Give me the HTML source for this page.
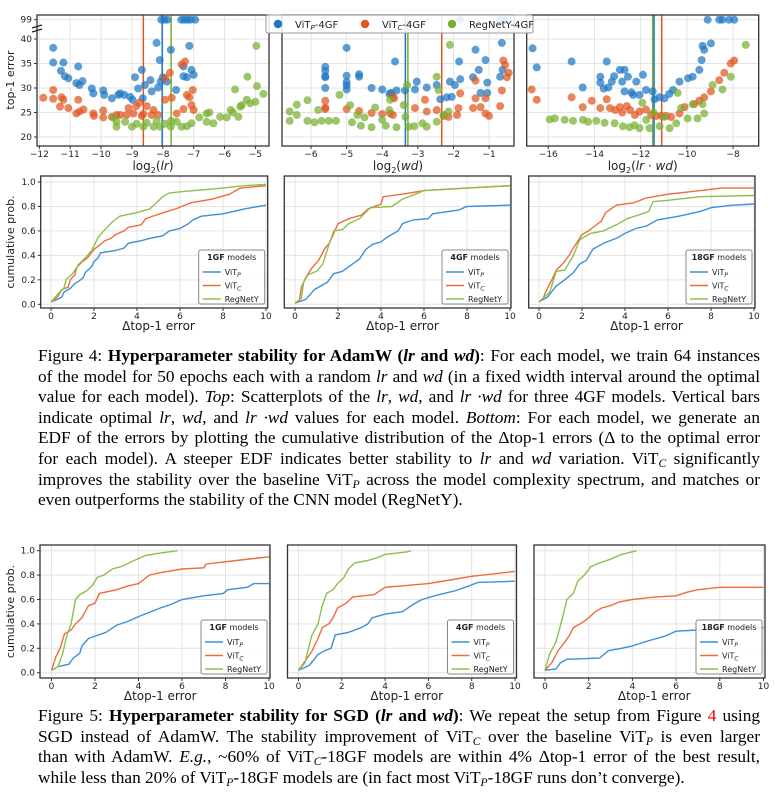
<!DOCTYPE html>
<html><head><meta charset="utf-8">
<style>
html,body{margin:0;padding:0;background:#fff;}
body{width:775px;height:806px;position:relative;overflow:hidden;font-family:"Liberation Sans","DejaVu Sans",sans-serif;}
svg{position:absolute;left:0;top:0;}
.cap{position:absolute;left:38px;width:722px;font-family:"Liberation Serif",serif;font-size:17.3px;line-height:20.6px;white-space:nowrap;color:#000;}
.j{text-align:justify;text-align-last:justify;white-space:normal;height:20.6px;overflow:visible;}
sub{font-size:11.5px;vertical-align:-3px;line-height:0;}
</style></head>
<body>
<svg id="fig" width="775" height="806" viewBox="0 0 775 806" xmlns="http://www.w3.org/2000/svg"></svg>

<div class="cap" style="top:346px;">
<div class="j">Figure 4: <b>Hyperparameter stability for AdamW (<i>lr</i> and <i>wd</i>)</b>: For each model, we train 64 instances</div>
<div class="j">of the model for 50 epochs each with a random <i>lr</i> and <i>wd</i> (in a fixed width interval around the optimal</div>
<div class="j">value for each model). <i>Top</i>: Scatterplots of the <i>lr</i>, <i>wd</i>, and <i>lr ·wd</i> for three 4GF models. Vertical bars</div>
<div class="j">indicate optimal <i>lr</i>, <i>wd</i>, and <i>lr ·wd</i> values for each model. <i>Bottom</i>: For each model, we generate an</div>
<div class="j">EDF of the errors by plotting the cumulative distribution of the Δtop-1 errors (Δ to the optimal error</div>
<div class="j">for each model). A steeper EDF indicates better stability to <i>lr</i> and <i>wd</i> variation. ViT<sub><i>C</i></sub> significantly</div>
<div class="j">improves the stability over the baseline ViT<sub><i>P</i></sub> across the model complexity spectrum, and matches or</div>
<div>even outperforms the stability of the CNN model (RegNetY).</div>
</div>

<div class="cap" style="top:706px;">
<div class="j">Figure 5: <b>Hyperparameter stability for SGD (<i>lr</i> and <i>wd</i>)</b>: We repeat the setup from Figure <span style="color:#e00">4</span> using</div>
<div class="j">SGD instead of AdamW. The stability improvement of ViT<sub><i>C</i></sub> over the baseline ViT<sub><i>P</i></sub> is even larger</div>
<div class="j">than with AdamW. <i>E.g.</i>, ~60% of ViT<sub><i>C</i></sub>-18GF models are within 4% Δtop-1 error of the best result,</div>
<div>while less than 20% of ViT<sub><i>P</i></sub>-18GF models are (in fact most ViT<sub><i>P</i></sub>-18GF runs don’t converge).</div>
</div>

<script>
// ---------- scatter data (x = log2 value, y = top-1 error; 99 = diverged) ----------
const sc1_vitp = [[-11.55,38.2],[-11.55,35.2],[-11.22,35.2],[-11.3,33.5],[-11.17,32.4],[-11.06,32],[-10.74,34.4],[-10.8,31],[-10.7,30.6],[-10.6,31.4],[-10.3,29.9],[-10.25,28.9],[-9.93,29.5],[-9.9,28.6],[-9.65,27.9],[-9.44,28.6],[-9.38,28.9],[-9.25,28.6],[-9.06,28.2],[-8.98,27.6],[-8.9,32.2],[-8.8,29.9],[-8.68,33.7],[-8.65,27.9],[-8.58,30.6],[-8.4,31.6],[-8.36,29.3],[-8.2,39.2],[-8.15,30.1],[-8.1,35.7],[-8.07,31.3],[-8,32.2],[-7.87,31.3],[-7.74,37.8],[-7.57,29.6],[-7.33,34.4],[-7.33,32.4],[-7.22,32.2],[-7.14,38.6],[-7.07,33.7],[-7.0,32.7],[-8.05,99],[-7.95,99],[-7.85,99],[-7.4,99],[-7.3,99],[-7.2,99],[-7.1,99],[-6.95,99]];
const sc1_vitc = [[-11.87,28],[-11.55,29.6],[-11.55,27.8],[-11.28,28.1],[-11.22,27.6],[-11.33,26.2],[-11.06,25.9],[-10.74,27.6],[-10.8,24.8],[-10.7,25.2],[-10.57,25.6],[-10.25,24.8],[-10.23,24.3],[-9.93,25.4],[-9.93,24],[-9.65,24.1],[-9.5,24.5],[-9.38,24.5],[-9.17,24.5],[-9.11,25.9],[-8.95,24.8],[-8.86,26.3],[-8.76,27],[-8.68,24.3],[-8.63,24.7],[-8.52,26.3],[-8.36,24.5],[-8.3,25.5],[-8.15,24.5],[-7.93,27.6],[-7.92,32],[-7.77,33.1],[-7.71,28],[-7.55,24.8],[-7.39,34.8],[-7.28,35.4],[-7.33,25.7],[-7.22,28.6],[-7.14,28.1],[-7.07,26.5],[-7.03,29.6],[-7.0,25.5]];
const sc1_reg = [[-9.6,24],[-9.5,23.1],[-9.5,22.1],[-9.22,23.1],[-9.0,22.1],[-8.85,22.7],[-8.63,22.1],[-8.52,22.9],[-8.3,22.1],[-8.2,23.3],[-8.09,22.1],[-7.93,22.7],[-7.74,22.1],[-7.73,23.3],[-7.55,23.1],[-7.39,22.1],[-7.22,22.2],[-7.07,22.8],[-6.82,24],[-6.58,23.1],[-6.49,25],[-6.36,22.8],[-6.14,24.1],[-5.93,24],[-5.73,25],[-5.66,29.7],[-5.55,24.1],[-5.44,26.5],[-5.28,27.6],[-5.26,32.3],[-5.17,26.9],[-5.0,27.2],[-4.95,30.4],[-4.97,38.6],[-4.74,28.8],[-6.58,24.8],[-5.8,25.5],[-5.49,26.2]];
const sc2_vitp = [[-5.6,34.3],[-5.6,33.5],[-5.6,32.4],[-5.6,32.2],[-5.6,30],[-5,38.2],[-5,32.5],[-5,31.2],[-5,30.5],[-5,29.7],[-4.65,32.8],[-4.65,32.3],[-4.3,30],[-4,29.7],[-3.8,28.8],[-3.75,29],[-3.6,29.5],[-3.64,35.4],[-3.36,29.5],[-3.03,31.3],[-3.08,29.7],[-2.75,30.1],[-2.47,30.6],[-2.37,27.7],[-2.19,28.1],[-2.1,31.3],[-2.05,28.2],[-1.96,30.6],[-1.84,35.4],[-1.81,31.8],[-1.45,32.2],[-1.38,37.8],[-1.29,33.7],[-1.24,29],[-1.1,35.7],[-1.05,31.1],[-1.05,29],[-0.69,32.3],[-0.64,39.2],[-0.62,33.7],[-1.81,99],[-0.7,99],[-0.54,99]];
const sc2_vitc = [[-5.6,27.4],[-5.6,26],[-5.6,25.7],[-5,25.7],[-4.65,25.3],[-4.3,24.9],[-4,24.7],[-3.7,24.5],[-3.7,28.2],[-3.67,27.9],[-3.78,24.8],[-3.08,25.9],[-2.8,27.6],[-2.75,25.2],[-2.47,25.5],[-2.28,24.3],[-2.14,24.1],[-1.9,24.5],[-1.86,25.9],[-1.81,28.9],[-1.45,25.9],[-1.38,27.9],[-1.38,31.5],[-1.24,26.1],[-1.1,27.9],[-1.0,24.3],[-1.1,24.8],[-0.69,26.3],[-0.64,29.5],[-0.6,35.6],[-0.55,34.7],[-0.5,32.2],[-0.45,33.1]];
const sc2_reg = [[-6.6,25.2],[-6.6,23.3],[-6.4,24.5],[-6.4,26.6],[-6.1,27.5],[-6.1,23.3],[-5.9,23],[-5.8,25.5],[-5.7,23.3],[-5.5,23.3],[-5.3,23.3],[-5.2,28.6],[-4.9,26.5],[-4.85,23],[-4.7,24.5],[-4.6,22.3],[-4.5,24],[-4.3,22],[-4.2,26],[-4.0,23.5],[-3.9,22.3],[-3.8,25.5],[-3.6,22],[-3.78,27.6],[-3.4,26.5],[-3.3,30.6],[-3.26,22.1],[-3.1,22.2],[-3.35,24.1],[-2.87,22.8],[-2.75,22.1],[-2.47,32.3],[-2.42,29.6],[-2.47,23.1],[-2.1,38.8],[-2.14,25.2],[-2.28,24.5]];
const sc3_vitp = [[-16.68,38.1],[-16.5,34.2],[-14.99,35.4],[-14.51,30.1],[-13.47,35.4],[-13.75,32.3],[-13.75,31.1],[-13.6,29.9],[-13.4,30.1],[-13.25,31.3],[-13.15,32.4],[-12.9,33.7],[-12.8,31.3],[-12.7,29.3],[-12.7,33.7],[-12.55,32.3],[-12.4,29.1],[-12.33,28.6],[-12.19,31.3],[-12.05,28.6],[-11.9,32.7],[-11.77,29.6],[-11.48,29.3],[-11.4,27.7],[-11.19,28.1],[-10.97,27.9],[-10.76,28.8],[-10.6,29.6],[-10.32,31.3],[-9.95,32],[-9.75,32.3],[-9.46,33.7],[-9.36,35.7],[-9.32,38.6],[-9.25,37.8],[-8.96,39.1],[-9.1,99],[-8.6,99],[-8.46,99],[-8.17,99],[-7.95,99]];
const sc3_vitc = [[-16.72,29.7],[-16.5,27.6],[-14.99,28.1],[-14.51,26.1],[-14.12,27.4],[-13.75,25.9],[-13.47,27.7],[-13.33,25.9],[-13.1,25.5],[-12.9,26.1],[-12.8,25],[-12.6,26.3],[-12.46,25.5],[-12.25,24.5],[-12.05,25.2],[-11.77,25.6],[-11.55,24.5],[-11.33,24.3],[-11.1,24.3],[-10.9,24.3],[-10.68,24.1],[-10.32,24.8],[-10.1,26.1],[-9.68,26.7],[-9.46,27.4],[-9.25,28.1],[-8.96,29.3],[-8.6,31.6],[-8.38,33.1],[-8.1,35],[-7.95,35.6]];
const sc3_reg = [[-15.94,23.6],[-15.72,23.8],[-15.29,23.5],[-14.93,23.3],[-14.5,23.5],[-14.28,23.1],[-13.92,23.3],[-13.56,22.9],[-13.13,22.8],[-12.77,22.2],[-12.48,22],[-12.27,22.4],[-12.05,21.8],[-11.93,27],[-11.76,23.5],[-11.62,21.8],[-11.44,25],[-11.18,22.2],[-10.97,24.1],[-10.75,21.8],[-10.46,22.8],[-10.4,29],[-10.25,25.9],[-9.97,23.8],[-9.75,26.7],[-9.54,23.8],[-9.32,26.7],[-9.25,24.8],[-8.89,30.6],[-8.46,29.7],[-8.1,32.3],[-7.45,38.8]];
// optimal values (vertical bars): [vitp, vitc, regnety]
const opt1 = [-8.02,-8.63,-7.73];
const opt2 = [-3.35,-2.33,-3.28];
const opt3 = [-11.42,-11.09,-11.48];
const scYTicks = [20,25,30,35,40];
const sc1XTicks = [-12,-11,-10,-9,-8,-7,-6,-5];
const sc2XTicks = [-6,-5,-4,-3,-2,-1];
const sc3XTicks = [-16,-14,-12,-10,-8];

// ---------- EDF data ([delta top-1 error, cumulative prob]) ----------
const e4_1_vitp = [[0,0.02],[0.3,0.04],[0.5,0.06],[0.6,0.1],[0.9,0.13],[1.0,0.15],[1.1,0.17],[1.3,0.19],[1.5,0.22],[1.6,0.26],[1.9,0.31],[2.0,0.35],[2.2,0.38],[2.3,0.42],[3.0,0.44],[3.4,0.46],[3.6,0.5],[4.2,0.52],[4.6,0.54],[5.2,0.56],[5.5,0.6],[6.0,0.62],[6.4,0.66],[6.6,0.69],[7.0,0.72],[8.0,0.74],[8.5,0.76],[9.0,0.78],[10,0.81]];
const e4_1_vitc = [[0,0.02],[0.3,0.06],[0.5,0.12],[0.8,0.14],[0.9,0.2],[1.1,0.24],[1.2,0.3],[1.4,0.34],[1.7,0.38],[2.0,0.45],[2.3,0.49],[2.5,0.52],[2.8,0.54],[3.0,0.57],[3.4,0.6],[3.6,0.63],[4.2,0.65],[4.4,0.7],[4.9,0.73],[5.4,0.76],[5.8,0.78],[6.5,0.83],[7.5,0.86],[8.3,0.9],[8.8,0.95],[10,0.97]];
const e4_1_reg = [[0,0.02],[0.4,0.1],[0.6,0.13],[0.7,0.2],[1.0,0.25],[1.3,0.33],[1.6,0.38],[1.9,0.44],[2.2,0.55],[2.6,0.63],[2.9,0.68],[3.2,0.72],[4.0,0.75],[4.6,0.78],[4.9,0.83],[5.2,0.88],[5.5,0.91],[6,0.92],[8,0.95],[9,0.97],[10,0.98]];
const e4_4_vitp = [[0,0.01],[0.5,0.04],[0.9,0.12],[1.5,0.18],[1.8,0.25],[2.2,0.27],[2.6,0.32],[3.0,0.37],[3.3,0.45],[3.6,0.49],[4.0,0.51],[4.3,0.55],[4.8,0.6],[5.0,0.66],[5.5,0.69],[6.2,0.7],[6.4,0.74],[7.6,0.77],[8.0,0.8],[10,0.81]];
const e4_4_vitc = [[0,0.01],[0.2,0.03],[0.3,0.14],[0.5,0.22],[0.8,0.3],[1.1,0.36],[1.4,0.46],[1.6,0.5],[2.0,0.66],[2.5,0.7],[3.1,0.73],[3.4,0.78],[4.0,0.82],[4.1,0.88],[5,0.9],[6,0.93],[8,0.95],[10,0.97]];
const e4_4_reg = [[0,0.01],[0.3,0.05],[0.4,0.18],[0.6,0.24],[1.0,0.27],[1.3,0.33],[1.6,0.5],[1.8,0.6],[2.2,0.61],[2.5,0.66],[3.0,0.7],[3.5,0.79],[4.5,0.8],[5.0,0.86],[5.6,0.9],[6,0.93],[8,0.95],[10,0.97]];
const e4_18_vitp = [[0,0.02],[0.4,0.06],[0.8,0.15],[1.2,0.2],[1.6,0.26],[1.9,0.33],[2.2,0.36],[2.5,0.45],[3.0,0.5],[3.6,0.54],[4.0,0.58],[4.5,0.62],[5.0,0.64],[5.5,0.69],[6.5,0.72],[7.5,0.76],[8,0.79],[9,0.81],[10,0.82]];
const e4_18_vitc = [[0,0.02],[0.2,0.05],[0.3,0.1],[0.6,0.2],[0.8,0.28],[1.1,0.33],[1.4,0.4],[1.6,0.46],[2.0,0.57],[2.3,0.6],[2.6,0.64],[2.9,0.68],[3.1,0.75],[3.6,0.81],[4.4,0.83],[5,0.87],[6,0.9],[7,0.92],[8.5,0.95],[10,0.95]];
const e4_18_reg = [[0,0.02],[0.5,0.1],[0.8,0.27],[1.2,0.28],[1.6,0.4],[1.9,0.53],[2.4,0.58],[3.0,0.6],[3.6,0.65],[4.1,0.7],[4.8,0.74],[5.1,0.76],[5.3,0.84],[6,0.85],[7.5,0.88],[10,0.89]];
const e5_1_vitp = [[0,0.02],[0.3,0.05],[0.8,0.07],[1.0,0.12],[1.3,0.16],[1.4,0.22],[1.7,0.28],[2.0,0.3],[2.5,0.33],[3.0,0.39],[3.5,0.42],[4.0,0.46],[5.0,0.53],[5.5,0.56],[6.0,0.6],[7.0,0.63],[7.9,0.65],[8.1,0.68],[9.0,0.7],[9.3,0.73],[10,0.73]];
const e5_1_vitc = [[0,0.02],[0.2,0.13],[0.4,0.2],[0.6,0.32],[0.9,0.35],[1.1,0.4],[1.4,0.45],[1.7,0.55],[2.0,0.57],[2.2,0.65],[3.0,0.68],[3.5,0.71],[4.0,0.73],[4.5,0.8],[5,0.82],[6,0.85],[7,0.86],[7.1,0.89],[8.5,0.92],[10,0.95]];
const e5_1_reg = [[0,0.02],[0.3,0.05],[0.5,0.15],[0.7,0.3],[0.9,0.4],[1.0,0.5],[1.1,0.6],[1.3,0.64],[1.6,0.67],[1.9,0.72],[2.1,0.78],[2.4,0.8],[2.8,0.85],[3.2,0.87],[3.8,0.92],[4.3,0.96],[5.0,0.98],[5.8,1.0]];
const e5_4_vitp = [[0,0.02],[0.5,0.06],[0.9,0.15],[1.2,0.18],[1.5,0.2],[1.7,0.31],[2.3,0.33],[2.9,0.37],[3.2,0.4],[3.4,0.45],[4.0,0.48],[4.8,0.5],[5.3,0.56],[5.7,0.6],[6.5,0.64],[7.2,0.67],[7.7,0.7],[8.3,0.74],[10,0.75]];
const e5_4_vitc = [[0,0.02],[0.4,0.12],[0.6,0.17],[0.9,0.28],[1.1,0.37],[1.4,0.4],[1.6,0.45],[1.8,0.53],[2.2,0.57],[2.5,0.62],[3.0,0.63],[3.5,0.64],[4.0,0.7],[6,0.73],[7,0.76],[8,0.79],[9,0.81],[10,0.83]];
const e5_4_reg = [[0,0.02],[0.3,0.08],[0.6,0.3],[0.9,0.4],[1.1,0.55],[1.3,0.65],[1.6,0.68],[1.8,0.73],[2.1,0.78],[2.3,0.85],[2.6,0.9],[3.2,0.92],[3.6,0.94],[4.0,0.97],[5.0,0.99],[5.2,1.0]];
const e5_18_vitp = [[0,0.02],[0.5,0.03],[0.7,0.08],[1.0,0.11],[2.5,0.12],[2.9,0.18],[3.5,0.2],[4.0,0.22],[4.7,0.26],[5.5,0.3],[6.0,0.34],[7,0.35],[8,0.36],[10,0.37]];
const e5_18_vitc = [[0,0.02],[0.3,0.08],[0.6,0.18],[0.9,0.25],[1.1,0.3],[1.3,0.37],[1.7,0.41],[2.0,0.45],[2.3,0.5],[2.6,0.53],[3.0,0.55],[3.4,0.58],[4.0,0.6],[5,0.62],[6,0.63],[6.5,0.66],[7.0,0.68],[8,0.7],[10,0.7]];
const e5_18_reg = [[0,0.02],[0.2,0.15],[0.5,0.25],[0.8,0.45],[1.0,0.6],[1.3,0.65],[1.5,0.75],[1.8,0.8],[2.1,0.87],[2.5,0.9],[3.0,0.93],[3.5,0.97],[4.2,1.0]];
const edfXTicks = [0,2,4,6,8,10];
const edfYTicks = [0,0.2,0.4,0.6,0.8,1.0];

const NS = "http://www.w3.org/2000/svg";
const svg = document.getElementById('fig');
function mk(tag, attrs, parent){ const e=document.createElementNS(NS,tag); for(const k in attrs) e.setAttribute(k,attrs[k]); (parent||svg).appendChild(e); return e; }
function txt(s, x, y, size, anchor, parent, extra){ const t=mk('text',Object.assign({x:x,y:y,'font-size':size,'text-anchor':anchor||'middle','font-family':'"DejaVu Sans","Liberation Sans",sans-serif',fill:'#222'},extra||{}),parent); t.textContent=s; return t; }
const fmtMinus = v => (v<0?'\u2212':'')+Math.abs(v);

const SC = {vitp:'#1f77c4', vitc:'#e0561f', reg:'#77b030'};
const LN = {vitp:'#3d8fd6', vitc:'#ef6b3e', reg:'#8cc04b'};

// ---------- scatter panels ----------
function scatterPanel(name, px0, px1, dx0, dx1, xTicks, series, opts, xlabel, showY){
  const top=15, bot=146;
  const g = mk('g',{});
  
  
  const xs = v => px0 + (v-dx0)/(dx1-dx0)*(px1-px0);
  const ys = v => v>=90 ? 19.7 : 137 - (v-20)*4.9;
  xTicks.forEach(t=>{ mk('line',{x1:xs(t),x2:xs(t),y1:top,y2:bot,stroke:'#e3e3e3','stroke-width':1},g); });
  scYTicks.forEach(t=>{ mk('line',{x1:px0,x2:px1,y1:ys(t),y2:ys(t),stroke:'#e3e3e3','stroke-width':1},g); });
  mk('line',{x1:px0,x2:px1,y1:ys(99),y2:ys(99),stroke:'#e3e3e3','stroke-width':1},g);
  const keys=['vitp','vitc','reg'];
  opts.forEach((v,i)=>{ const l=mk('line',{x1:xs(v),x2:xs(v),y1:top,y2:bot,stroke:SC[keys[i]],'stroke-width':1.5},g);
    
     });
  series.forEach((arr,i)=>{ arr.forEach(p=>{ const c=mk('circle',{cx:xs(p[0]),cy:ys(p[1]),r:4,fill:SC[keys[i]],'fill-opacity':0.72},g);
    
     }); });
  mk('rect',{x:px0,y:top,width:px1-px0,height:bot-top,fill:'none',stroke:'#333','stroke-width':1.3},g);
  xTicks.forEach(t=>{ mk('line',{x1:xs(t),x2:xs(t),y1:bot,y2:bot+3,stroke:'#333'},g); txt(fmtMinus(t),xs(t),bot+11,9,'middle',g); });
  if(showY){
    scYTicks.forEach(t=>{ mk('line',{x1:px0-3,x2:px0,y1:ys(t),y2:ys(t),stroke:'#333'},g); txt(String(t),px0-5,ys(t)+3,9,'end',g); });
    mk('line',{x1:px0-3,x2:px0,y1:ys(99),y2:ys(99),stroke:'#333'},g); txt('99',px0-5,ys(99)+3,9,'end',g);
    mk('line',{x1:px0-5,x2:px0+5,y1:28,y2:25,stroke:'#222','stroke-width':1.3},g);
    mk('line',{x1:px0-5,x2:px0+5,y1:32,y2:29,stroke:'#222','stroke-width':1.3},g);
    const yl=txt('top-1 error',14,80,11,'middle',g,{transform:'rotate(-90 14 80)'});
    
    
  }
  const xl = mk('text',{x:(px0+px1)/2,y:170,'font-size':12,'text-anchor':'middle','font-family':'"DejaVu Sans",sans-serif',fill:'#222'},g);
  xl.innerHTML = xlabel;
  
  
}
scatterPanel('scatter-lr',37,269,-12.075,-4.56,sc1XTicks,[sc1_vitp,sc1_vitc,sc1_reg],opt1,'log<tspan font-size="8" dy="3">2</tspan><tspan dy="-3">(</tspan><tspan font-style="italic">lr</tspan>)',true);
scatterPanel('scatter-wd',282,514,-6.815,-0.30,sc2XTicks,[sc2_vitp,sc2_vitc,sc2_reg],opt2,'log<tspan font-size="8" dy="3">2</tspan><tspan dy="-3">(</tspan><tspan font-style="italic">wd</tspan>)',false);
scatterPanel('scatter-lr-wd',526.7,758.7,-16.935,-6.89,sc3XTicks,[sc3_vitp,sc3_vitc,sc3_reg],opt3,'log<tspan font-size="8" dy="3">2</tspan><tspan dy="-3">(</tspan><tspan font-style="italic">lr</tspan> · <tspan font-style="italic">wd</tspan>)',false);

(function(){
  const g=mk('g',{});
  
  
  mk('rect',{x:266,y:15,width:267,height:18,fill:'#fff','fill-opacity':0.85,stroke:'#999','stroke-width':1,rx:2},g);
  const items=[['vitp','ViT','P','-4GF',278],['vitc','ViT','C','-4GF',365],['reg','RegNetY-4GF','','',452]];
  items.forEach(it=>{
    const c=mk('circle',{cx:it[4],cy:24,r:4.2,fill:SC[it[0]]},g);
    
    
    const t=mk('text',{x:it[4]+17,y:28,'font-size':10,'font-family':'"DejaVu Sans",sans-serif',fill:'#222'},g);
    t.innerHTML = it[2] ? it[1]+'<tspan font-size="7" dy="2" font-style="italic">'+it[2]+'</tspan><tspan dy="-2">'+it[3]+'</tspan>' : it[1];
    
    
  });
})();

// ---------- EDF panels ----------
function edfPanel(name, bx0, bx1, top, bot, x0px, x10px, y1px, y0px, series, label, showY){
  const g=mk('g',{});
  
  
  const xs=v=> x0px + v/10*(x10px-x0px);
  const ys=v=> y0px - v*(y0px-y1px);
  edfXTicks.forEach(t=>mk('line',{x1:xs(t),x2:xs(t),y1:top,y2:bot,stroke:'#e3e3e3'},g));
  edfYTicks.forEach(t=>mk('line',{x1:bx0,x2:bx1,y1:ys(t),y2:ys(t),stroke:'#e3e3e3'},g));
  const keys=['vitp','vitc','reg'];
  series.forEach((arr,i)=>{
    const pl=mk('polyline',{points:arr.map(p=>xs(p[0]).toFixed(1)+','+ys(p[1]).toFixed(1)).join(' '),fill:'none',stroke:LN[keys[i]],'stroke-width':1.4},g);
    
    
  });
  mk('rect',{x:bx0,y:top,width:bx1-bx0,height:bot-top,fill:'none',stroke:'#333','stroke-width':1.3},g);
  edfXTicks.forEach(t=>{ mk('line',{x1:xs(t),x2:xs(t),y1:bot,y2:bot+3,stroke:'#333'},g); txt(String(t),xs(t),bot+11,9,'middle',g); });
  if(showY){
    edfYTicks.forEach(t=>{ mk('line',{x1:bx0-3,x2:bx0,y1:ys(t),y2:ys(t),stroke:'#333'},g); txt(t.toFixed(1),bx0-5,ys(t)+3,9,'end',g); });
    const cy=(top+bot)/2;
    const yl=txt('cumulative prob.',14,cy,11,'middle',g,{transform:'rotate(-90 14 '+cy+')'});
    
    
  }
  const xl=txt('\u0394top-1 error',(x0px+x10px)/2,bot+22,12,'middle',g);
  
  
  const lw=66, lh=54, lx=bx1-lw-3, ly=bot-lh-4;
  const lg=mk('g',{},g);
  
  
  mk('rect',{x:lx,y:ly,width:lw,height:lh,fill:'#fff','fill-opacity':0.85,stroke:'#888',rx:2},lg);
  const tt=mk('text',{x:lx+lw/2,y:ly+10,'font-size':8,'text-anchor':'middle','font-family':'"DejaVu Sans",sans-serif',fill:'#222'},lg);
  tt.innerHTML='<tspan font-weight="bold">'+label+'</tspan> models';
  const names=[['ViT','P'],['ViT','C'],['RegNetY','']];
  names.forEach((n,i)=>{
    const yy=ly+22+i*13.5;
    mk('line',{x1:lx+4,x2:lx+22,y1:yy,y2:yy,stroke:LN[keys[i]],'stroke-width':1.6},lg);
    const t=mk('text',{x:lx+26,y:yy+3,'font-size':8,'font-family':'"DejaVu Sans",sans-serif',fill:'#222'},lg);
    t.innerHTML = n[1] ? n[0]+'<tspan font-size="6" dy="2" font-style="italic">'+n[1]+'</tspan>' : n[0];
  });
}
edfPanel('edf-adamw-1gf',40.7,267.7,176,308,51,266,182,304.3,[e4_1_vitp,e4_1_vitc,e4_1_reg],'1GF',true);
edfPanel('edf-adamw-4gf',284.3,511,176,308,295,510,182,304.3,[e4_4_vitp,e4_4_vitc,e4_4_reg],'4GF',false);
edfPanel('edf-adamw-18gf',528.7,755,176,308,539,754,182,304.3,[e4_18_vitp,e4_18_vitc,e4_18_reg],'18GF',false);
edfPanel('edf-sgd-1gf',40,270,545,678,51.5,269,550.7,672.7,[e5_1_vitp,e5_1_vitc,e5_1_reg],'1GF',true);
edfPanel('edf-sgd-4gf',287.5,516.5,545,678,298.5,515,550.7,672.7,[e5_4_vitp,e5_4_vitc,e5_4_reg],'4GF',false);
edfPanel('edf-sgd-18gf',534,765,545,678,545,763.5,550.7,672.7,[e5_18_vitp,e5_18_vitc,e5_18_reg],'18GF',false);
</script>
</body></html>
